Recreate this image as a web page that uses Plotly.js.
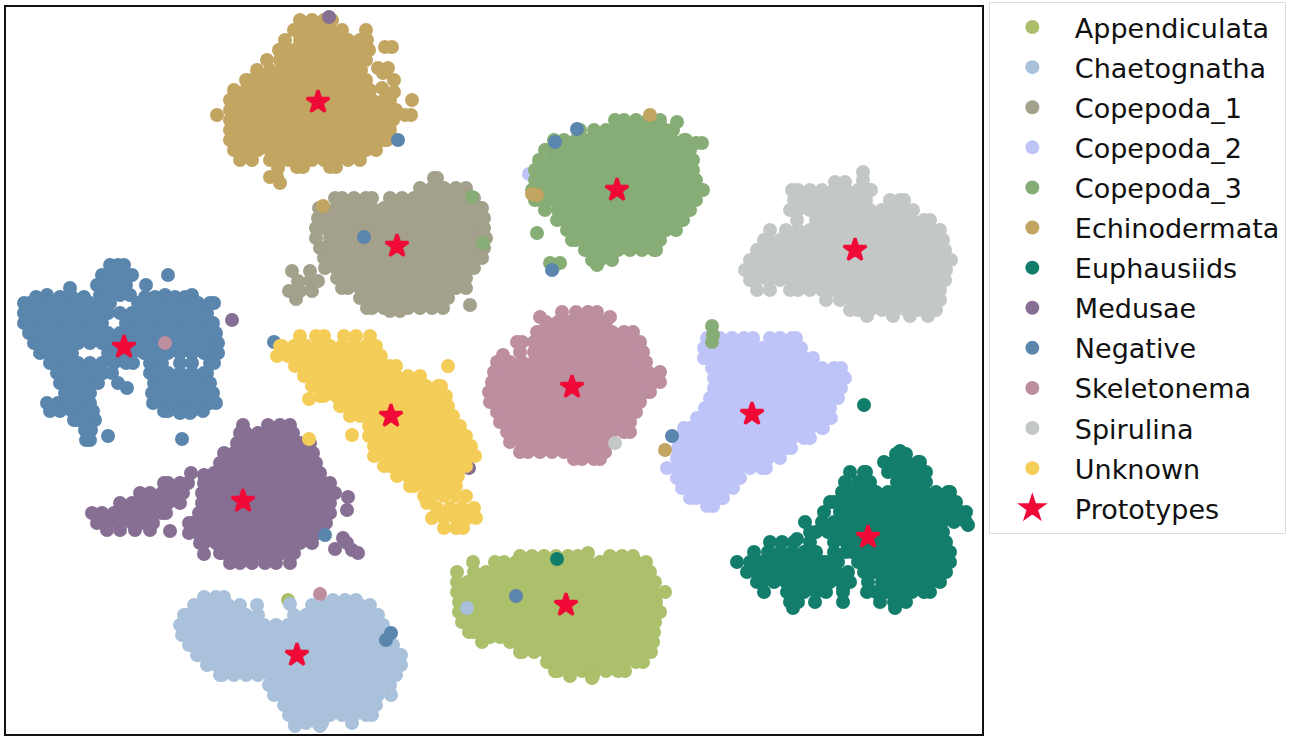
<!DOCTYPE html>
<html>
<head>
<meta charset="utf-8">
<script src="https://cdn.plot.ly/plotly-3.0.1.min.js"></script>
<style>html,body{margin:0;padding:0;background:#fff}</style>
</head>
<body>
<div id="tsne" style="width:1299px;height:740px"></div>
<script>
// values, in picture pixels. each row is [y, x, x, x ...]
var appendiculata = [
[600,288],
[553,588],
[556,520,532,544,556,568,578,610,622,633],
[562,473,495,504,516,528,540,552,564,576,588,600,612,624,636,646],
[572,457,474,486,498,510,522,534,546,558,570,582,594,606,618,630,642,650],
[582,457,468,480,492,504,516,528,540,552,564,576,588,600,612,624,636,648,655],
[592,457,462,474,486,498,510,522,534,546,558,570,582,594,606,618,630,642,653,665],
[602,459,468,480,492,504,516,528,540,552,564,576,588,600,612,624,636,648,656],
[612,459,462,474,486,498,510,522,534,546,558,570,582,594,606,618,630,642,654,660],
[622,462,468,480,492,504,516,528,540,552,564,576,588,600,612,624,636,648,655],
[632,469,474,486,498,510,522,534,546,558,570,582,594,606,618,630,642,654],
[637,490,500],
[642,482,510,516,528,540,552,564,576,588,600,612,624,636,648,653],
[652,520,522,534,546,558,570,582,594,606,618,630,642,651],
[662,547,552,564,576,588,600,612,624,636,643],
[671,555,558,570,582,594,606,618,625],
[676,570,593],
[678,592]
];
var chaetognatha = [
[608,467],
[597,204,216,224],
[600,333,345,356],
[604,290],
[605,194,204,216,228,240,257,312,324,336,348,360,370],
[615,184,186,198,210,222,234,246,258,294,306,318,330,342,354,366,378],
[625,180,192,204,216,228,240,252,264,276,288,300,312,324,336,348,360,372,383],
[635,182,186,198,210,222,234,246,258,270,282,294,306,318,330,342,354,366,378,386],
[645,189,192,204,216,228,240,252,264,276,288,300,312,324,336,348,360,372,384,393],
[655,197,198,210,222,234,246,258,270,282,294,306,318,330,342,354,366,378,390,401],
[665,207,216,228,240,252,264,276,288,300,312,324,336,348,360,372,384,396,401],
[675,220,222,234,246,258,270,282,294,306,318,330,342,354,366,378,390,396],
[685,269,276,288,300,312,324,336,348,360,372,384,390],
[695,274,282,294,306,318,330,342,354,366,378,391],
[705,284,288,300,312,324,336,348,360,372,376],
[715,289,294,306,318,330,342,354,366,372],
[723,295,306,318,322,352],
[726,295,320]
];
var copepoda1 = [
[178,434,437],
[188,420,432,444,456,466],
[198,335,342,354,366,372,390,402,414,426,438,450,462,474],
[208,319,324,336,348,360,372,384,396,408,420,432,444,456,468,480,482],
[218,318,330,342,354,366,378,390,402,414,426,438,450,462,474,484],
[228,316,324,336,348,360,372,384,396,408,420,432,444,456,468,480,484],
[238,316,330,342,354,366,378,390,402,414,426,438,450,462,474,486],
[248,320,324,336,348,360,372,384,396,408,420,432,444,456,468,480,484],
[258,324,330,342,354,366,378,390,402,414,426,438,450,462,474,482],
[268,325,336,348,360,372,384,396,408,420,432,444,456,468,474],
[278,337,342,354,366,378,390,402,414,426,438,450,462,466],
[288,342,348,360,372,384,396,408,420,432,444,456,466],
[298,360,366,378,390,402,414,426,438,448],
[305,470],
[308,367,372,384,396,408,420,432,443],
[311,390,400],
[271,292,310],
[281,298,310,318],
[291,289,300,312],
[299,296]
];
var copepoda2 = [
[174,529],
[338,707,720,732,744,753,770,780,792,796],
[348,704,714,726,738,750,762,774,786,798,801],
[358,704,708,720,732,744,756,768,780,792,804,813],
[368,712,714,726,738,750,762,774,786,798,810,822,834,841],
[378,714,720,732,744,756,768,780,792,804,816,828,840,845],
[388,714,726,738,750,762,774,786,798,810,822,834,841],
[398,710,720,732,744,756,768,780,792,804,816,828,838],
[408,705,714,726,738,750,762,774,786,798,810,822,830],
[418,697,708,720,732,744,756,768,780,792,804,816,828,831],
[428,684,690,702,714,726,738,750,762,774,786,798,810,822,823],
[438,677,684,696,708,720,732,744,756,768,780,792,804,810],
[448,678,690,702,714,726,738,750,762,774,786,791],
[458,677,684,696,708,720,732,744,756,768,780],
[468,667,678,690,702,714,726,738,750,762,766],
[478,677,684,696,708,720,732,740],
[488,682,690,702,714,726,733],
[498,690,696,708,720,723],
[506,707,713]
];
var copepoda3 = [
[197,472],
[243,483],
[326,712],
[335,713],
[342,712],
[120,615,624,636,648,660],
[122,677],
[130,580,594,606,618,630,642,654,666,673],
[140,554,564,576,588,600,612,624,636,648,660,672,684,686],
[143,696,702],
[150,545,546,558,570,582,594,606,618,630,642,654,666,678,690],
[160,539,552,564,576,588,600,612,624,636,648,660,672,684,693],
[170,535,546,558,570,582,594,606,618,630,642,654,666,678,690,693],
[180,535,540,552,564,576,588,600,612,624,636,648,660,672,684,696],
[190,532,534,546,558,570,582,594,606,618,630,642,654,666,678,690,697,703],
[200,535,540,552,564,576,588,600,612,624,636,648,660,672,684,696],
[210,545,558,570,582,594,606,618,630,642,654,666,678,690],
[220,557,564,576,588,600,612,624,636,648,660,672,683],
[230,567,570,582,594,606,618,630,642,654,666,676],
[240,572,576,588,600,612,624,636,648,660],
[250,585,594,606,618,630,642,654,656],
[260,592,600,612],
[265,597],
[233,537],
[263,550,560],
[268,553]
];
var echinodermata = [
[206,323],
[194,532],
[195,537],
[115,650],
[450,665],
[20,300,312,324,332],
[30,294,306,318,330,342,366],
[40,285,300,312,324,336,348,360,367],
[47,385,392],
[50,279,282,294,306,318,330,342,354,366,369],
[60,267,280,288,300,312,324,336,348,360,366],
[68,378,388],
[70,257,270,282,294,306,318,330,342,354,361],
[73,383],
[80,246,252,264,276,288,300,312,324,336,348,360,366,394],
[88,382],
[90,234,246,258,270,282,294,306,318,330,342,354,366,370],
[92,394],
[100,230,240,252,264,276,288,300,312,324,336,348,360,372,384,390,412],
[110,230,234,246,258,270,282,294,306,318,330,342,354,366,378,390,396],
[115,217,405,411],
[120,230,240,252,264,276,288,300,312,324,336,348,360,372,384,393],
[130,230,234,246,258,270,282,294,306,318,330,342,354,366,378,390],
[140,230,240,252,264,276,288,300,312,324,336,348,360,372,384,387],
[150,234,246,258,270,282,294,306,318,330,342,354,366,376],
[160,240,252,270,276,288,300,312,324,336,348,360],
[167,297,303,330,336],
[168,278],
[177,270,277],
[183,280]
];
var euphausiids = [
[405,864],
[559,557],
[451,900],
[454,896,906],
[462,884,894,906,918,920],
[472,850,864,866,888,900,912,924,926],
[482,845,858,870,897,906,918,926],
[492,842,852,864,876,888,900,912,924,936,948,950],
[502,830,834,846,858,870,882,894,906,918,930,942,954,956],
[512,824,840,852,864,876,888,900,912,924,936,948,960,966],
[522,805,822,834,846,858,870,882,894,906,918,930,942,954,966],
[525,968],
[532,810,816,828,840,852,864,876,888,900,912,924,936,943],
[539,797],
[542,770,782,794,810,834,846,858,870,882,894,906,918,930,942,946],
[552,754,768,780,792,804,816,834,846,852,864,876,888,900,912,924,936,948,950],
[562,737,750,762,774,786,798,810,822,826,838,858,870,882,894,906,918,930,942,950],
[572,747,756,768,780,792,804,816,828,836,848,864,876,888,900,912,924,936,946],
[582,757,762,774,786,798,810,822,830,842,850,868,882,894,906,918,930,940],
[588,843],
[592,764,787,792,804,816,826,843,867,876,888,900,912,924,930],
[602,790,798,815,843,880,894,906],
[608,793,895]
];
var medusae = [
[17,329],
[320,232],
[468,469],
[425,243,268,280,290],
[433,240,246,258,270,282,293],
[443,237,240,252,264,276,288,300,310],
[453,224,234,246,258,270,282,294,306,313],
[463,220,228,240,252,264,276,288,300,312,316],
[473,191,214,222,234,246,258,270,282,294,306,318,320],
[475,204],
[483,164,168,180,188,204,216,228,240,252,264,276,288,300,312,324,330],
[493,140,150,162,174,183,202,210,222,234,246,258,270,282,294,306,318,330,335],
[497,348],
[503,120,132,144,156,168,180,202,204,216,228,240,252,264,276,288,300,312,324,330],
[510,347],
[513,92,102,114,126,138,150,162,166,199,210,222,234,246,258,270,282,294,306,318,330],
[523,97,108,120,132,144,153,189,192,204,216,228,240,252,264,276,288,300,312,324,326],
[530,107,120,135,150],
[531,170],
[533,189,198,210,222,234,246,258,270,282,294,306,318,323],
[538,343],
[543,200,204,216,228,240,252,264,276,288,300,312,347],
[549,335],
[550,352],
[553,220,222,234,246,258,270,282,294,358],
[554,204],
[563,230,240,252,265,276,290]
];
var negative = [
[140,398],
[237,364],
[342,274],
[142,555],
[129,577],
[270,552],
[633,391],
[640,386],
[596,516],
[535,325],
[436,672],
[265,110,118,124],
[275,102,108,120,132,168],
[285,97,102,114,126,146],
[288,70],
[295,47,100,108,120,130,165,192],
[297,36,60,72,84,145,155,175,185],
[303,24,30,42,54,66,78,90,102,110,138,150,162,174,186,198,210,214],
[313,24,36,48,60,72,84,96,108,120,132,144,156,168,180,192,204,207],
[323,24,30,42,54,66,78,90,102,126,138,150,162,174,186,198,210,213],
[333,29,36,48,60,72,84,96,108,120,132,144,156,168,180,192,204,216],
[343,34,42,54,66,78,90,102,114,126,138,150,162,174,186,198,210,218],
[353,40,48,60,72,108,120,132,144,156,168,180,192,204,216,218],
[363,50,54,66,78,90,102,114,126,133,150,162,180,192,210,214],
[373,57,60,72,84,96,103,112,150,156,168,180,192,204,207],
[383,60,66,78,90,98,118,154,162,174,186,198,210],
[388,127],
[393,65,72,84,90,152,156,168,180,192,204,213],
[403,47,58,66,78,90,153,162,174,186,198,210,216],
[411,50,60,72,84,93,164,168,180,192,203],
[413,180,190],
[420,74,78,90,95],
[430,85,91],
[436,108],
[439,182],
[440,86,90]
];
var skeletonema = [
[343,165],
[594,320],
[312,562,576,588,597],
[317,540,610],
[322,546,558,570,582,594,606],
[332,537,540,552,564,576,588,600,612,624,633],
[342,517,522,534,546,558,570,582,594,606,618,630,640],
[352,520,534,540,552,564,576,588,600,612,624,636,643],
[355,503],
[362,497,510,522,534,546,558,570,582,594,606,618,630,642,646],
[372,494,504,516,528,540,552,564,576,588,600,612,624,636,648,660],
[382,492,498,510,522,534,546,558,570,582,594,606,618,630,642,654,660],
[392,489,492,504,516,528,540,552,564,576,588,600,612,624,636,648,650],
[402,490,498,510,522,534,546,558,570,582,594,606,618,630,640],
[412,497,504,516,528,540,552,564,576,588,600,612,624,636],
[422,500,510,522,534,546,558,570,582,594,606,618,630],
[432,507,516,528,540,552,564,576,588,600,612,624,630],
[442,510,522,534,546,558,570,582,594,606,610],
[452,520,528,540,552,564,576,588,600,605],
[459,574,582,594,600]
];
var spirulina = [
[443,615],
[172,863],
[180,863],
[182,835,845],
[190,792,798,810,822,834,846,858,870,871],
[200,794,804,816,828,840,852,864,866,890,900,904],
[210,790,798,810,822,834,846,858,870,882,894,906,913],
[220,797,816,828,840,852,864,876,888,900,912,924,930],
[230,770,786,798,810,822,834,846,858,870,882,894,906,918,930,940],
[240,764,768,780,792,804,816,828,840,852,864,876,888,900,912,924,936,943],
[250,757,762,774,786,798,810,822,834,846,858,870,882,894,906,918,930,942,945],
[260,750,756,768,780,792,804,816,828,840,852,864,876,888,900,912,924,936,948,951],
[270,745,750,762,774,786,798,810,822,834,846,858,870,882,894,906,918,930,942,946],
[280,750,756,768,780,792,804,816,828,840,852,864,876,888,900,912,924,936,945],
[290,757,770,790,798,810,822,834,846,858,870,882,894,906,918,930,940],
[300,826,840,852,864,876,888,900,912,924,936,940],
[310,850,858,870,882,894,906,918,930,936],
[316,867,893,910,928]
];
var unknown = [
[439,309],
[399,309],
[435,352],
[336,300,316,324,344,356,370],
[346,280,282,294,306,318,330,342,354,366,376],
[356,277,288,300,312,324,336,348,360,372,381],
[366,295,306,318,330,342,354,366,378,390,396,448],
[376,304,312,324,336,348,360,372,384,396,408,420],
[386,312,318,330,342,354,366,378,390,402,414,426,438,441],
[396,320,324,336,348,360,372,384,396,408,420,432,444,446],
[406,340,342,354,366,378,390,402,414,426,438,448],
[416,350,360,372,384,396,408,420,432,444,453],
[426,369,378,390,402,414,426,438,450,460],
[436,369,372,384,396,408,420,432,444,456,466],
[446,374,378,390,402,414,426,438,450,462,471],
[456,374,384,396,408,420,432,444,456,468,475],
[466,384,390,402,414,426,438,450,462,466],
[476,397,408,420,432,444,456,458],
[486,410,414,426,438,450,456],
[496,424,432,444,456,466],
[503,427],
[508,437,450,462,474],
[518,432,444,456,468,476],
[528,444,456,463]
];

var categories = ['Appendiculata', 'Chaetognatha', 'Copepoda_1', 'Copepoda_2', 'Copepoda_3', 'Echinodermata',
    'Euphausiids', 'Medusae', 'Negative', 'Skeletonema', 'Spirulina', 'Unknown'];
var clusterRows = [appendiculata, chaetognatha, copepoda1, copepoda2, copepoda3, echinodermata,
    euphausiids, medusae, negative, skeletonema, spirulina, unknown];
var colors = ['#acbf6b', '#a9c1da', '#a3a08b', '#bfc4f8', '#86ad75', '#c2a561',
    '#127d6b', '#866f93', '#5a85ad', '#bc8ea0', '#c3c7c6', '#f3cd57'];

var prototypeX = [566, 297, 397, 752, 617, 318, 868, 243, 124, 572, 855, 391];
var prototypeY = [605, 655, 246, 414, 190, 102, 537, 501, 347, 387, 250, 416];

function rowsToTrace(rows, name, color) {
    var x = [], y = [];
    rows.forEach(function (row) {
        for (var i = 1; i < row.length; i++) {
            x.push(row[i]);
            y.push(row[0]);
        }
    });
    return {
        x: x, y: y, name: name, type: 'scatter', mode: 'markers', legendgroup: name,
        marker: { size: 14, color: color }, cliponaxis: false, hoverinfo: 'skip'
    };
}

var data = [];
for (var i = 0; i < categories.length; i++) {
    data.push(rowsToTrace(clusterRows[i], categories[i], colors[i]));
}
data.push({
    x: prototypeX, y: prototypeY, name: 'Prototypes', type: 'scatter', mode: 'markers', legendgroup: 'Prototypes',
    marker: { symbol: 'star', size: 17, color: '#f00a38', line: { color: '#f00a38', width: 3 } }, hoverinfo: 'skip'
});

var layout = {
    width: 1299,
    height: 740,
    // top margin is small so the legend can start above the frame
    margin: { l: 6, r: 317, t: 2, b: 6 },
    paper_bgcolor: '#fff',
    plot_bgcolor: '#fff',
    font: { family: 'DejaVu Sans', color: '#111' },
    xaxis: { range: [6, 982], showgrid: false, zeroline: false, showticklabels: false, ticks: '',
        showline: true, mirror: true, linecolor: '#111', linewidth: 2 },
    yaxis: { range: [734, 7], domain: [0, 0.99317], showgrid: false, zeroline: false, showticklabels: false, ticks: '',
        showline: true, mirror: true, linecolor: '#111', linewidth: 2 },
    showlegend: true,
    legend: {
        x: 1.007, xanchor: 'left', y: 1, yanchor: 'top',
        font: { size: 27, family: 'DejaVu Sans', color: '#111' },
        bordercolor: '#ddd', borderwidth: 1, bgcolor: '#fff',
        tracegroupgap: 2, itemwidth: 75, itemsizing: 'trace', itemclick: false, itemdoubleclick: false
    }
};

Plotly.newPlot('tsne', data, layout, { displayModeBar: false });
</script>
</body>
</html>
